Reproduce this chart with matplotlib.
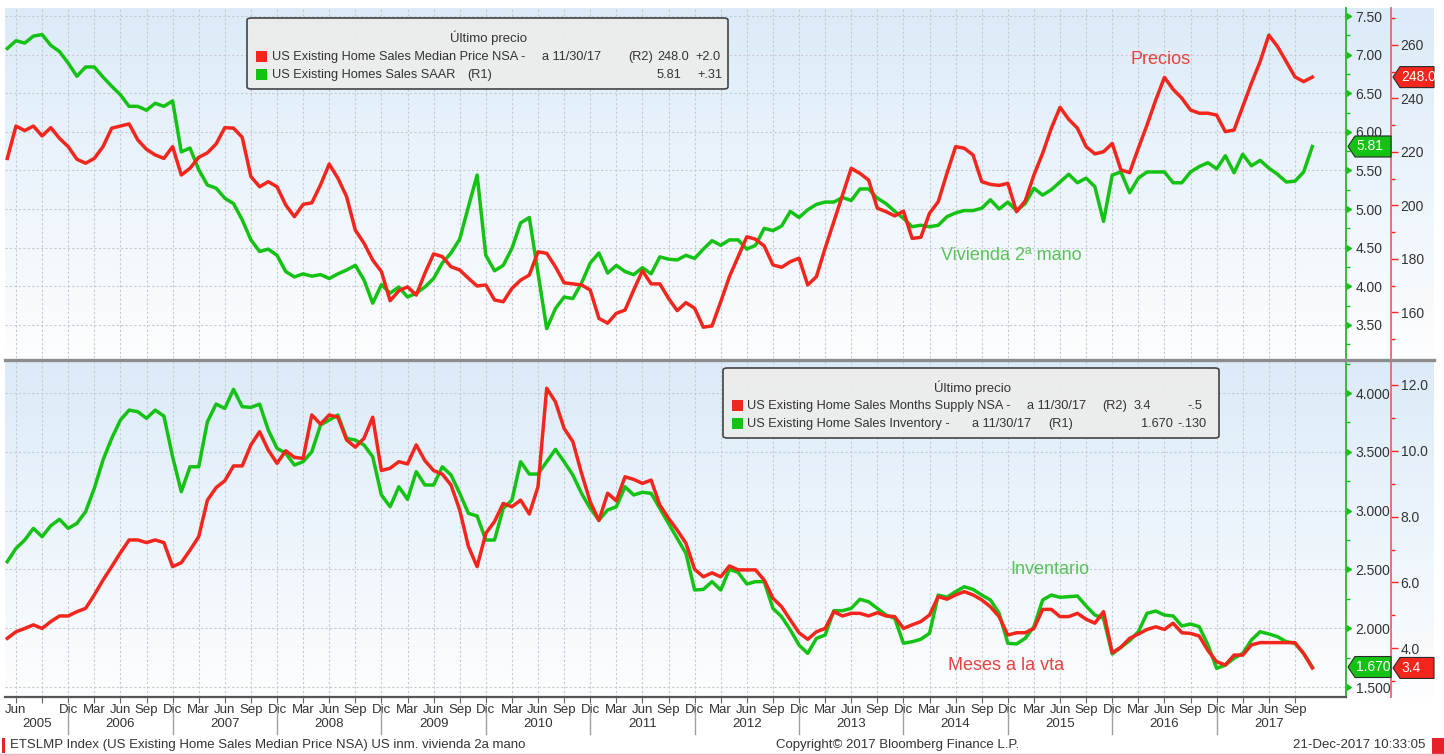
import numpy as np
import matplotlib
matplotlib.use('Agg')
import matplotlib.pyplot as plt
import matplotlib.transforms as mtransforms
from matplotlib.patches import FancyBboxPatch, Polygon, Rectangle
from matplotlib.lines import Line2D
from matplotlib.markers import CARETRIGHTBASE
from matplotlib.ticker import FormatStrFormatter

plt.rcParams['font.family'] = ['Liberation Sans', 'DejaVu Sans']

W, H = 1444, 755

# meses contados desde ene-2005 = 0 ; datos may-2005 .. nov-2017
mes = np.arange(4, 155)

# panel superior, R2: precio mediano (miles $)
precio = [217.6, 229.7, 228.0, 229.7, 226.0, 229.1, 225.1, 222.0, 217.3, 215.8,
          217.6, 222.0, 228.9, 229.7, 230.5, 224.5, 221.0, 218.9, 217.6, 222.0,
          211.4, 213.9, 218.0, 219.7, 223.0, 229.1, 228.9, 225.5, 210.8, 207.0,
          208.9, 207.0, 200.2, 195.8, 200.4, 201.0, 207.7, 215.5, 210.2, 203.3,
          190.8, 185.9, 179.6, 175.3, 164.4, 168.1, 169.6, 166.5, 174.7, 181.9,
          180.9,
          177.1, 175.9, 172.8, 169.9, 170.3, 164.7, 164.0, 169.0, 172.1, 174.0,
          182.7, 182.1, 177.1, 171.1, 170.7, 170.3, 168.4, 157.8, 156.0, 159.7,
          160.9, 168.4, 175.6, 170.7, 170.7, 165.3, 160.7, 163.7, 161.6, 154.5,
          155.0, 164.0, 173.4, 180.9, 188.3, 187.4, 184.9, 177.8, 176.9, 179.0,
          180.3, 170.3, 173.4, 184.0, 193.9, 203.9, 213.9, 212.0, 209.5, 199.0,
          197.7, 196.1, 197.9, 187.7, 188.1, 197.1, 201.4, 212.0, 222.0, 221.4,
          218.9, 208.9, 207.9, 207.5, 208.3, 197.7, 201.7, 211.4, 219.5, 228.9,
          236.7, 232.2, 228.9, 222.0, 219.3, 220.1, 223.2, 213.3, 212.3, 221.4,
          230.1, 239.4, 247.9, 243.4, 240.1, 235.7, 234.5, 234.5, 233.8, 227.6,
          228.2, 236.9, 245.7, 253.8, 263.7, 259.4, 253.8, 248.1, 246.3, 248.0]

# panel superior, R1: ventas SAAR (millones)
ventas = [7.08, 7.18, 7.15, 7.24, 7.26, 7.12, 7.04, 6.89, 6.72, 6.84,
          6.84, 6.71, 6.59, 6.48, 6.33, 6.33, 6.28, 6.37, 6.33, 6.40,
          5.74, 5.79, 5.51, 5.31, 5.27, 5.14, 5.07, 4.86, 4.60, 4.45,
          4.48, 4.40, 4.19, 4.12, 4.16, 4.13, 4.15, 4.10, 4.16, 4.21,
          4.27, 4.08, 3.78, 4.02, 3.91, 3.99, 3.86, 3.91, 3.99, 4.10,
          4.30,
          4.43, 4.61, 5.03, 5.44, 4.40, 4.20, 4.27, 4.49, 4.82, 4.89,
          4.17, 3.45, 3.71, 3.86, 3.84, 4.04, 4.30, 4.43, 4.17, 4.27,
          4.19, 4.15, 4.24, 4.16, 4.38, 4.35, 4.34, 4.40, 4.36, 4.48,
          4.59, 4.53, 4.60, 4.60, 4.48, 4.53, 4.75, 4.72, 4.78, 4.97,
          4.89, 4.99, 5.06, 5.09, 5.09, 5.15, 5.11, 5.26, 5.26, 5.14,
          5.07, 4.97, 4.88, 4.77, 4.79, 4.77, 4.79, 4.90, 4.95, 4.98,
          4.98, 5.01, 5.12, 5.00, 5.09, 4.98, 5.07, 5.27, 5.18, 5.25,
          5.35, 5.45, 5.34, 5.40, 5.29, 4.84, 5.44, 5.48, 5.21, 5.40,
          5.48, 5.48, 5.48, 5.34, 5.34, 5.48, 5.55, 5.60, 5.52, 5.69,
          5.47, 5.71, 5.56, 5.63, 5.53, 5.45, 5.35, 5.36, 5.48, 5.81]

# panel inferior, R2: meses de oferta
meses_vta = [4.30, 4.50, 4.60, 4.71, 4.60, 4.81, 4.98, 4.98, 5.11, 5.21,
             5.62, 6.07, 6.48, 6.90, 7.29, 7.29, 7.21, 7.29, 7.21, 6.48,
             6.60, 6.98, 7.39, 8.50, 8.88, 9.09, 9.54, 9.54, 10.18, 10.58,
             10.02, 9.62, 10.00, 9.80, 9.77, 11.09, 10.81, 11.09, 11.02, 10.33,
             10.11, 10.38, 11.02, 9.40, 9.47, 9.67, 9.60, 10.18, 9.70, 9.40,
             9.29,
             8.96, 8.20, 7.09, 6.48, 7.49, 7.85, 8.40, 8.30, 8.50, 8.08,
             8.91, 11.90, 11.49, 10.68, 10.28, 9.32, 8.45, 7.88, 8.71, 8.48,
             9.21, 9.13, 9.01, 9.11, 8.35, 7.95, 7.59, 7.19, 6.40, 6.17,
             6.29, 6.17, 6.50, 6.38, 6.38, 6.38, 6.07, 5.52, 5.26, 4.86,
             4.47, 4.27, 4.50, 4.60, 5.11, 4.98, 5.06, 5.06, 4.98, 5.08,
             4.98, 4.96, 4.60, 4.71, 4.81, 5.01, 5.57, 5.49, 5.62, 5.72,
             5.62, 5.47, 5.26, 4.96, 4.40, 4.47, 4.47, 4.60, 5.18, 5.18,
             4.96, 4.96, 5.06, 4.88, 4.76, 5.11, 3.86, 4.03, 4.30, 4.43,
             4.57, 4.65, 4.57, 4.76, 4.47, 4.45, 4.37, 3.93, 3.59, 3.49,
             3.79, 3.79, 4.10, 4.17, 4.17, 4.17, 4.17, 4.17, 3.84, 3.40]

# panel inferior, R1: inventario (millones)
inventario = [2.566, 2.679, 2.750, 2.849, 2.778, 2.872, 2.926, 2.849, 2.892, 2.991,
              3.190, 3.430, 3.615, 3.770, 3.855, 3.841, 3.785, 3.855, 3.804, 3.458,
              3.161, 3.373, 3.373, 3.756, 3.906, 3.869, 4.031, 3.884, 3.878, 3.906,
              3.685, 3.530, 3.487, 3.388, 3.416, 3.501, 3.728, 3.770, 3.813, 3.615,
              3.600, 3.558, 3.458, 3.133, 3.033, 3.203, 3.096, 3.331, 3.218, 3.218,
              3.373,
              3.303, 3.147, 2.977, 2.954, 2.750, 2.750, 3.019, 3.090, 3.416, 3.311,
              3.311, 3.416, 3.521, 3.416, 3.303, 3.147, 3.019, 2.920, 3.005, 3.033,
              3.203, 3.133, 3.156, 3.147, 3.019, 2.892, 2.764, 2.637, 2.325, 2.330,
              2.396, 2.325, 2.501, 2.475, 2.376, 2.396, 2.396, 2.169, 2.098, 1.985,
              1.857, 1.786, 1.914, 1.942, 2.149, 2.149, 2.169, 2.246, 2.225, 2.169,
              2.112, 2.084, 1.872, 1.885, 1.906, 1.957, 2.282, 2.263, 2.311, 2.353,
              2.330, 2.282, 2.240, 2.127, 1.872, 1.866, 1.914, 2.013, 2.240, 2.282,
              2.263, 2.268, 2.274, 2.189, 2.112, 2.084, 1.781, 1.838, 1.894, 1.970,
              2.127, 2.146, 2.112, 2.104, 2.019, 2.036, 2.013, 1.857, 1.659, 1.687,
              1.744, 1.786, 1.900, 1.970, 1.951, 1.928, 1.885, 1.872, 1.786, 1.670]

nombres_mes = {2: 'Mar', 5: 'Jun', 8: 'Sep', 11: 'Dic'}
anios = list(range(2005, 2018))

ROJO = '#f2261c'
VERDE = '#14c214'
ROJO_TXT = '#e8413f'
VERDE_TXT = '#58c458'
GRIS_TXT = '#333333'
XLIM = (3.736, 157.87)
FS = 9.5
FS_LEY = 9.2


def fx(x):
    return x / W


def fy(y):
    return 1 - y / H


def caja(x0, y0, x1, y1):
    return [fx(x0), fy(y1), (x1 - x0) / W, (y1 - y0) / H]


fig = plt.figure(figsize=(W / 100, H / 100), dpi=100)
fig.patch.set_facecolor('white')

# fondo degradado de cada panel
t = np.linspace(0, 1, 256)[:, None, None]
c_top = np.array([0.862, 0.922, 0.972])[None, None, :]
c_bot = np.array([0.990, 0.995, 1.0])[None, None, :]
grad = c_top + (c_bot - c_top) * t
for y0, y1 in [(8, 358), (362, 697)]:
    bg = fig.add_axes(caja(5, y0, 1434, y1))
    bg.imshow(grad, aspect='auto', extent=[0, 1, 0, 1])
    bg.axis('off')

trimestres = [m for m in range(5, 153) if m % 3 == 2]


def eje_y(ax, color, color_linea, maj, mnr, fmt):
    ax.yaxis.tick_right()
    ax.set_yticks(maj)
    ax.set_yticks(mnr, minor=True)
    ax.yaxis.set_major_formatter(FormatStrFormatter(fmt))
    ax.tick_params(axis='y', which='major', length=5, width=1, color=color,
                   labelsize=FS + 0.5, labelcolor=GRIS_TXT, pad=2)
    ax.tick_params(axis='y', which='minor', length=3, width=1, color=color)
    for tk in ax.yaxis.get_major_ticks():
        tk.tick2line.set_marker(CARETRIGHTBASE)
        tk.tick2line.set_markerfacecolor(color)
        tk.tick2line.set_markeredgecolor(color)
    ax.spines['right'].set_color(color_linea)
    ax.spines['right'].set_linewidth(1.3)
    for s in ('left', 'top', 'bottom'):
        ax.spines[s].set_visible(False)


def panel(y0, y1, serieL, serieR, limL, limR, ejeL, ejeR):
    ax = fig.add_axes(caja(5, y0, 1346, y1))
    ax.set_facecolor('none')
    axr = ax.twinx()
    ax.plot(mes, serieL, color=VERDE, lw=2.5, solid_joinstyle='round')
    axr.plot(mes, serieR, color=ROJO, lw=2.5, solid_joinstyle='round')
    ax.set_xlim(*XLIM)
    ax.set_ylim(*limL)
    axr.set_ylim(*limR)
    eje_y(ax, VERDE, '#22bb22', *ejeL)
    eje_y(axr, ROJO, '#e06a6a', *ejeR)
    axr.spines['right'].set_position(('outward', 45 * 0.72))
    ax.set_xticks(trimestres)
    ax.set_axisbelow(True)
    ax.grid(True, which='major', color='#c6cad0', ls=(0, (2, 2)), lw=0.8)
    return ax, axr


ax1, ax1r = panel(8, 358, ventas, precio, (3.070, 7.604), (142.99, 273.83),
                  (np.arange(3.5, 7.51, 0.5), np.arange(3.25, 7.3, 0.5), '%.2f'),
                  (np.arange(160, 261, 20), np.arange(150, 271, 20), '%.0f'))
ax1.tick_params(axis='x', length=0, labelbottom=False)

ax2, ax2r = panel(362, 697, inventario, meses_vta, (1.415, 4.264), (2.517, 12.699),
                  (np.arange(1.5, 4.01, 0.5), np.arange(1.75, 4.3, 0.5), '%.3f'),
                  (np.arange(4, 12.1, 2), np.arange(3, 12, 2), '%.1f'))
etiquetas = [nombres_mes[m % 12] for m in trimestres]
etiquetas[1] = ''
ax2.set_xticklabels(etiquetas)
ax2.tick_params(axis='x', length=4, color='#666666', labelsize=FS, labelcolor=GRIS_TXT, pad=1)
ax2.spines['bottom'].set_visible(True)
ax2.spines['bottom'].set_color('#555555')
ax2.spines['bottom'].set_linewidth(1.6)

# años y separadores
tr = mtransforms.blended_transform_factory(ax2.transData, fig.transFigure)
for i, a in enumerate(anios):
    ini = max(12 * i - 1, XLIM[0])
    fin = min(12 * i + 11, XLIM[1])
    fig.text((ini + fin) / 2, fy(724), str(a), transform=tr, ha='center', va='center',
             fontsize=FS, color=GRIS_TXT)
    if 12 * i + 11 < 150:
        fig.add_artist(Line2D([12 * i + 11] * 2, [fy(712), fy(734)], transform=tr,
                              color='#a0a0a0', lw=1))

# separador gris entre paneles
fig.add_artist(Line2D([fx(5), fx(1434)], [fy(359.5)] * 2, color='#8c8c8c', lw=2.4))


# etiquetas de último valor
def etiqueta(ax, val, x_punta, x_fin, color, texto):
    yd = ax.transData.transform((mes[-1], val))[1]
    h = 21
    pts = [(x_punta, yd), (x_punta + 7, yd + h / 2), (x_fin, yd + h / 2),
           (x_fin, yd - h / 2), (x_punta + 7, yd - h / 2)]
    fig.add_artist(Polygon([(x / W, y / H) for x, y in pts], closed=True,
                           transform=fig.transFigure, facecolor=color,
                           edgecolor='#2a2a2a', lw=0.8))
    fig.text((x_punta + 8) / W, yd / H, texto, color='white', fontsize=FS + 0.5,
             va='center', ha='left')


etiqueta(ax1, ventas[-1], 1348, 1391, VERDE, '%.2f' % ventas[-1])
etiqueta(ax1r, precio[-1], 1393, 1434, ROJO, '%.1f' % precio[-1])
etiqueta(ax2, inventario[-1], 1348, 1391, VERDE, '%.3f' % inventario[-1])
etiqueta(ax2r, meses_vta[-1], 1393, 1434, ROJO, '%.1f' % meses_vta[-1])


# leyendas
def leyenda(x0, y0, x1, y1, titulo, xt, yt, filas):
    fig.add_artist(FancyBboxPatch((fx(x0), fy(y1)), (x1 - x0) / W, (y1 - y0) / H,
                                  boxstyle='round,pad=0,rounding_size=0.003',
                                  transform=fig.transFigure, facecolor='#ececec',
                                  edgecolor='#3a3a3a', lw=1.2, alpha=0.95))
    fig.text(fx(xt), fy(yt), titulo, ha='center', va='center', fontsize=FS_LEY + 0.3,
             color=GRIS_TXT)
    for color, y, piezas in filas:
        fig.add_artist(Rectangle((fx(x0 + 9), fy(y + 5)), 11 / W, 11 / H,
                                 transform=fig.transFigure, facecolor=color, edgecolor='none'))
        for x, s in piezas:
            fig.text(fx(x), fy(y), s, ha='left', va='center', fontsize=FS_LEY, color=GRIS_TXT)


leyenda(247, 18, 728, 89, 'Último precio', 488, 38, [
    (ROJO, 57, [(272, 'US Existing Home Sales Median Price NSA -'), (542, 'a 11/30/17'),
                (628, '(R2)'), (657, '248.0'), (695, '+2.0')]),
    (VERDE, 75, [(272, 'US Existing Homes Sales SAAR'), (467, '(R1)'),
                 (657, '5.81'), (697, '+.31')]),
])
leyenda(723, 368, 1219, 438, 'Último precio', 972, 388, [
    (ROJO, 406, [(747, 'US Existing Home Sales Months Supply NSA -'), (1027, 'a 11/30/17'),
                 (1102, '(R2)'), (1134, '3.4'), (1187, '-.5')]),
    (VERDE, 424, [(747, 'US Existing Home Sales Inventory -'), (972, 'a 11/30/17'),
                  (1048, '(R1)'), (1141, '1.670'), (1177, '-.130')]),
])

# anotaciones
fig.text(fx(1161), fy(60), 'Precios', color=ROJO_TXT, fontsize=13, ha='center', va='center')
fig.text(fx(1011), fy(256), 'Vivienda 2ª mano', color=VERDE_TXT, fontsize=13, ha='center', va='center')
fig.text(fx(1050), fy(569), 'Inventario', color=VERDE_TXT, fontsize=13, ha='center', va='center')
fig.text(fx(1006), fy(665), 'Meses a la vta', color=ROJO_TXT, fontsize=13, ha='center', va='center')

# pie
fig.text(fx(10), fy(745), 'ETSLMP Index (US Existing Home Sales Median Price NSA) US inm. vivienda 2a mano',
         fontsize=FS, color=GRIS_TXT, va='center', ha='left')
fig.text(fx(898), fy(745), 'Copyright© 2017 Bloomberg Finance L.P.', fontsize=FS,
         color=GRIS_TXT, va='center', ha='center')
fig.text(fx(1425), fy(745), '21-Dec-2017 10:33:05', fontsize=FS, color=GRIS_TXT,
         va='center', ha='right')
fig.add_artist(Rectangle((fx(2), fy(753)), 3 / W, 15 / H, transform=fig.transFigure,
                         facecolor='#e8202a', edgecolor='none'))
fig.add_artist(Rectangle((fx(1432), fy(755)), 12 / W, 17 / H, transform=fig.transFigure,
                         facecolor='#e8202a', edgecolor='none'))
fig.add_artist(Line2D([0, 1], [fy(753.5)] * 2, color='#f3b6bf', lw=1))

fig.savefig('out.png', dpi=100)
